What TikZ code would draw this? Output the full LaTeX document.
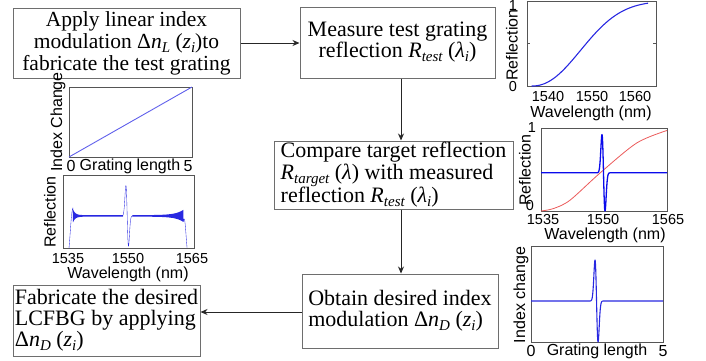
\documentclass[tikz,border=0pt]{standalone}
\usepackage{fontspec}
\setmainfont{Liberation Serif}
\setsansfont{Liberation Sans}
\usetikzlibrary{arrows.meta}
\definecolor{boxgray}{RGB}{110,110,110}
\definecolor{framegray}{RGB}{85,85,85}
\definecolor{plotblue}{RGB}{40,40,225}
\definecolor{lineblue}{RGB}{95,95,235}
\definecolor{deepblue}{RGB}{10,10,235}
\definecolor{plotred}{RGB}{235,90,90}
\newcommand{\lsub}[1]{\raisebox{-0.4ex}{\fontsize{15}{15}\selectfont\itshape #1}}
\begin{document}
\begin{tikzpicture}[x=1pt,y=-1pt,
 box/.style={draw=boxgray, line width=1pt, fill=white, inner sep=0pt, font=\fontsize{22}{21}\selectfont},
 conn/.style={draw=black!85, line width=0.9pt, -{Stealth[length=7pt,width=6pt]}},
 frame/.style={draw=framegray, line width=0.8pt},
 lab/.style={font=\sffamily\fontsize{16}{16}\selectfont, inner sep=0pt},
 tk/.style={font=\sffamily\fontsize{14.5}{14.5}\selectfont, inner sep=0pt},
]
\useasboundingbox (0,0) rectangle (706,360);

% ---------- boxes ----------
\node[box, minimum width=227pt, minimum height=70pt, align=center, font=\fontsize{21.5}{22}\selectfont] (b1) at (126.5,43)
 {Apply linear index\\modulation Δ\textit{n}\lsub{L} (\textit{z}\lsub{i})to\\fabricate the test grating};
\node[box, minimum width=195pt, minimum height=71pt, align=center] (b2) at (397.5,42.5)
 {Measure test grating\\reflection \textit{R}\lsub{test} (\textit{λ}\lsub{i})};
\node[box, minimum width=239pt, minimum height=68pt, align=left, font=\fontsize{22}{19.5}\selectfont] (b3) at (393.5,175)
 {Compare target reflection\\\textit{R}\lsub{target} (\textit{λ}) with measured\\reflection \textit{R}\lsub{test} (\textit{λ}\lsub{i})};
\node[box, minimum width=196pt, minimum height=74pt, align=left] (b4) at (400,311)
 {Obtain desired index\\modulation Δ\textit{n}\lsub{D} (\textit{z}\lsub{i})};
\node[box, minimum width=187pt, minimum height=71pt, align=left] (b5) at (106.5,320.5)
 {Fabricate the desired\\LCFBG by applying\\Δ\textit{n}\lsub{D} (\textit{z}\lsub{i})};

% ---------- connectors ----------
\coordinate (col) at (401,0);
\coordinate (row4) at (0,312);
\draw[conn] (b1.east) -- (b2.west |- b1.east);
\draw[conn] (b2.south -| col) -- (b3.north -| col);
\draw[conn] (b3.south -| col) -- (b4.north -| col);
\draw[conn] (b4.west |- row4) -- (b5.east |- row4);

% ---------- plot 1 (top right) ----------
\begin{scope}[shift={(527,86)}, x=129pt, y=85pt]
 \draw[frame] (0,0) rectangle (1,1);
 \draw[frame] (0,0.5) -- ++(3pt,0);
 \draw[frame] (1,0.5) -- ++(-3pt,0);
 \draw[plotblue, line width=1.1pt] (0.036,0)
  -- plot[domain=0.037:0.94, samples=90] (\x, {1-exp(-pow((\x-0.036)/0.5,2.2))});
\end{scope}
\node[tk] (p1y0) at (513,87) {0};
\node[tk] (p1y1) at (513,6) {1};
\node[lab, rotate=90] (p1yl) at (512,45) {Reflection};
\node[tk] (p1t1) at (548,97) {1540};
\node[tk] (p1t2) at (592,97) {1550};
\node[tk] (p1t3) at (635,97) {1560};
\node[lab] (p1xl) at (591,113) {Wavelength (nm)};

% ---------- plot 2 (index change, left) ----------
\begin{scope}[shift={(69,157)}, x=123pt, y=70pt]
 \draw[frame] (0,0) rectangle (1,1);
 \draw[lineblue, line width=0.9pt] (0,0) -- (1,1);
\end{scope}
\node[lab, rotate=90] (p2yl) at (58,122) {Index Change};
\node[lab] (p2t0) at (71,166) {0};
\node[lab] (p2xl) at (130,166) {Grating length};
\node[lab] (p2t5) at (188,166) {5};

% ---------- plot 3 (test reflection, left) ----------
\begin{scope}[shift={(63,248)}, x=131pt, y=73pt]
 \draw[frame] (0,0) rectangle (1,1);
 \draw[plotblue, line width=0.35pt, line join=round]
  (0.046,0) .. controls (0.058,0.25) and (0.064,0.52) .. (0.076,0.55)
  -- plot[domain=0:379, samples=380, variable=\k]
     ({0.076+\k*0.001}, {0.44 + (2*mod(round(\k),2)-1)*(0.008+0.08*exp(-\k*0.001/0.018))})
  -- plot[domain=0.455:0.53, samples=80]
     (\x, {0.44 - 0.97*((\x-0.49)/0.014)*exp(-((\x-0.49)/0.014)*((\x-0.49)/0.014))})
  -- plot[domain=0:386, samples=387, variable=\k]
     ({0.53+\k*0.001}, {0.44 + (2*mod(round(\k),2)-1)*(0.008+0.07*exp(-(0.386-\k*0.001)/0.06))})
  .. controls (0.93,0.5) and (0.935,0.25) .. (0.947,0);
\end{scope}
\node[lab, rotate=90] (p3yl) at (50,212) {Reflection};
\node[tk] (p3t1) at (68,258) {1535};
\node[tk] (p3t2) at (128,258) {1550};
\node[tk] (p3t3) at (192,258) {1565};
\node[lab] (p3xl) at (128,274) {Wavelength (nm)};

% ---------- plot 4 (compare, right) ----------
\begin{scope}[shift={(541,211)}, x=126pt, y=83pt]
 \draw[frame] (0,0) rectangle (1,1);
 \draw[plotred, line width=0.8pt] plot[smooth] coordinates
  {(0,0) (0.1,0.03) (0.23,0.13) (0.47,0.46) (0.76,0.82) (1,0.97)};
 \draw[deepblue, line width=1.3pt, line join=round] (0,0.46) -- (0.43,0.46)
  -- plot[domain=0.43:0.57, samples=120]
     (\x, {0.46 - 1.0725*((\x-0.496)/0.017)*exp(-((\x-0.496)/0.017)*((\x-0.496)/0.017))})
  -- (1,0.46);
\end{scope}
\node[tk] (p4y1) at (532,128) {1};
\node[tk] (p4y0) at (530,205) {0};
\node[lab, rotate=90] (p4yl) at (525,170) {Reflection};
\node[tk] (p4t1) at (543,219) {1535};
\node[tk] (p4t2) at (603,219) {1550};
\node[tk] (p4t3) at (668,219) {1565};
\node[lab] (p4xl) at (605,235) {Wavelength (nm)};

% ---------- plot 5 (desired index change, right) ----------
\begin{scope}[shift={(531,342)}, x=132pt, y=96pt]
 \draw[frame] (0,0) rectangle (1,1);
 \draw[plotblue, line width=1.1pt, line join=round] (0,0.427) -- (0.43,0.427)
  -- plot[domain=0.43:0.57, samples=120]
     (\x, {0.427 - 0.9956*((\x-0.4965)/0.0163)*exp(-((\x-0.4965)/0.0163)*((\x-0.4965)/0.0163))})
  -- (1,0.427);
\end{scope}
\node[lab, rotate=90] (p5yl) at (521,295) {Index change};
\node[lab] (p5t0) at (531,351) {0};
\node[lab] (p5xl) at (597,351) {Grating length};
\node[lab] (p5t5) at (663,351) {5};
\end{tikzpicture}
\end{document}
